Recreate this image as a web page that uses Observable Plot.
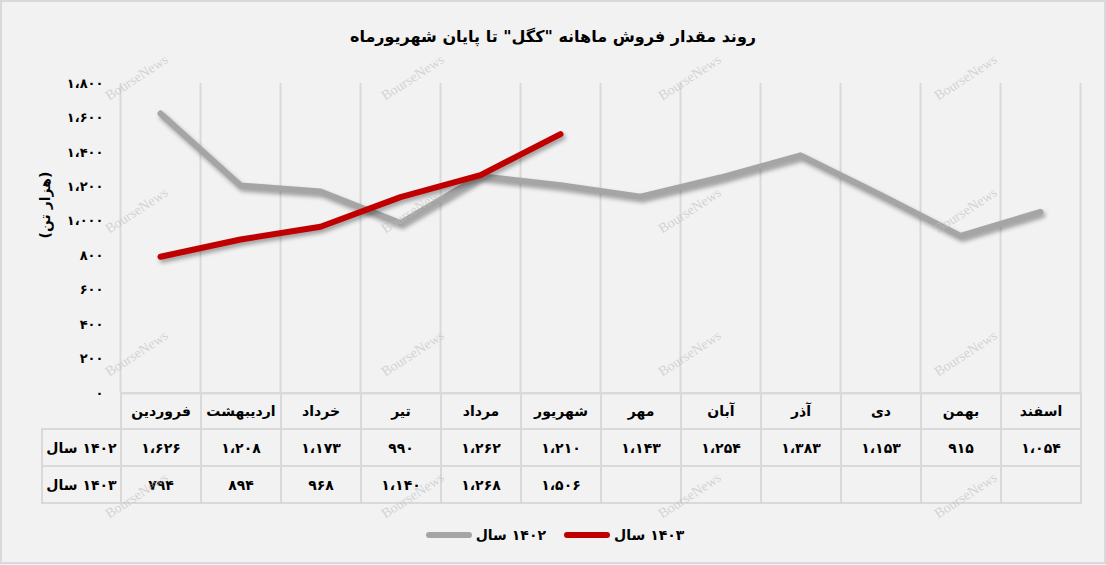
<!DOCTYPE html>
<html>
<head>
<meta charset="utf-8">
<script src="https://cdn.jsdelivr.net/npm/d3@7"></script>
<script src="https://cdn.jsdelivr.net/npm/@observablehq/plot@0.6"></script>
<style>
  body { margin: 0; background: #ffffff; }
  #chart { position: relative; width: 1106px; height: 565px; background: #f2f2f2; overflow: hidden;
           font-family: "DejaVu Sans", sans-serif; color: #000; }
  #frame { position: absolute; left: 0; top: 0; width: 1106px; height: 564px; box-sizing: border-box;
           border: 2px solid #d9d9d9; pointer-events: none; }
  #title { position: absolute; left: 0; top: 27px; width: 1106px; text-align: center;
           font-size: 16px; font-weight: bold; }
  #plot { position: absolute; left: 0; top: 0; }
  #table { position: absolute; left: 41px; top: 392px; border-collapse: collapse; table-layout: fixed; }
  #table td { border: 2px solid #d9d9d9; text-align: center; font-weight: bold; font-size: 14px;
              padding: 0; white-space: nowrap; }
  #table tr.head td { height: 34px; }
  #table tr.row td { height: 35px; }
  #table td.corner { border: none; }
  .pair { display: inline-flex; flex-direction: row; direction: ltr; gap: 5px; align-items: baseline; }
  #legend { position: absolute; left: 0; top: 527px; width: 1106px; display: flex; justify-content: center;
            align-items: center; font-weight: bold; font-size: 14px; padding-left: 4px; box-sizing: border-box; }
  .sw { width: 46px; height: 6px; border-radius: 3px; margin-right: 4px; }
  .lg { display: flex; align-items: center; }
  .wm { position: absolute; font-family: "Liberation Serif", "DejaVu Serif", serif; font-size: 14px;
        color: rgba(190,190,190,0.6); transform: translate(-50%, -50%) rotate(-33deg); white-space: nowrap;
        pointer-events: none; }
</style>
</head>
<body>
<div id="chart">
  <div id="title" dir="rtl"></div>
  <div id="plot"></div>
  <table id="table"></table>
  <div id="legend"></div>
  <div id="frame"></div>
</div>
<script>
// ---- data ----
const titleText = "روند مقدار فروش ماهانه \"کگل\" تا پایان شهریورماه";
const yLabel = "(هزار تن)";
const months = ["فروردین","اردیبهشت","خرداد","تیر","مرداد","شهریور","مهر","آبان","آذر","دی","بهمن","اسفند"];
const sales1402 = [1626,1208,1173,990,1262,1210,1143,1254,1383,1153,915,1054];
const sales1403 = [794,894,968,1140,1268,1506];
const seriesWord = "سال";
const seriesYears = ["۱۴۰۲","۱۴۰۳"];
const seriesColors = ["#a5a5a5","#c00000"];
const yTicks = [0,200,400,600,800,1000,1200,1400,1600,1800];
const watermark = "BourseNews";
const wmX = [137, 413, 690, 966];
const wmY = [78, 211, 354, 496];

// ---- helpers ----
const faDigits = "۰۱۲۳۴۵۶۷۸۹";
const fa = n => d3.format(",")(n).replace(/,/g, "،").replace(/\d/g, d => faDigits[d]);
const pairHtml = y => `<span class="pair"><span>${seriesWord}</span><span>${y}</span></span>`;

const rows1402 = sales1402.map((v, i) => ({month: months[i], value: v}));
const rows1403 = sales1403.map((v, i) => ({month: months[i], value: v}));

document.getElementById("title").textContent = titleText;

// ---- plot ----
const plot = Plot.plot({
  width: 1106,
  height: 400,
  marginTop: 83,
  marginBottom: 7,
  marginLeft: 120,
  marginRight: 26,
  style: {background: "transparent", color: "#000", fontFamily: "DejaVu Sans, sans-serif"},
  x: {type: "point", domain: months, padding: 0.5, axis: null},
  y: {domain: [0, 1800], axis: null},
  marks: [
    Plot.ruleX(months, {x: d => d, dx: -40, stroke: "#d9d9d9", strokeWidth: 2}),
    Plot.ruleX(months.slice(-1), {x: d => d, dx: 40, stroke: "#d9d9d9", strokeWidth: 2}),
    Plot.ruleY([0], {stroke: "#d9d9d9", strokeWidth: 2}),
    Plot.axisY({ticks: yTicks, tickFormat: fa, tickSize: 0, tickPadding: 17, fontSize: 13,
                fontWeight: "bold", label: null}),
    Plot.text([yLabel], {text: d => d, frameAnchor: "left", dx: -75, rotate: -90,
                         fontSize: 14, fontWeight: "bold", fill: "#000"}),
    Plot.line(rows1402, {x: "month", y: "value", stroke: seriesColors[0], strokeWidth: 6,
                         strokeLinecap: "round", strokeLinejoin: "round"}),
    Plot.line(rows1403, {x: "month", y: "value", stroke: seriesColors[1], strokeWidth: 6,
                         strokeLinecap: "round", strokeLinejoin: "round"})
  ]
});
d3.select(plot).selectAll("g[aria-label='line']")
  .style("filter", "drop-shadow(2px 3px 2px rgba(0,0,0,0.35))");
document.getElementById("plot").appendChild(plot);

// ---- data table ----
const table = d3.select("#table");
const cg = table.append("colgroup");
cg.append("col").style("width", "79px");
months.forEach(() => cg.append("col").style("width", "80px"));
const head = table.append("tr").attr("class", "head");
head.append("td").attr("class", "corner");
months.forEach(m => head.append("td").attr("dir", "rtl").text(m));
[sales1402, sales1403].forEach((vals, k) => {
  const tr = table.append("tr").attr("class", "row");
  tr.append("td").html(pairHtml(seriesYears[k]));
  months.forEach((m, i) => tr.append("td").text(i < vals.length ? fa(vals[i]) : ""));
});

// ---- legend ----
const legend = d3.select("#legend");
seriesYears.forEach((y, k) => {
  const item = legend.append("div").attr("class", "lg").style("margin-left", k ? "18px" : "0");
  item.append("div").attr("class", "sw").style("background", seriesColors[k]);
  item.append("div").html(pairHtml(y));
});

// ---- watermarks ----
const chart = d3.select("#chart");
wmY.forEach(y => wmX.forEach(x => {
  chart.append("div").attr("class", "wm").style("left", x + "px").style("top", y + "px").text(watermark);
}));
</script>
</body>
</html>
